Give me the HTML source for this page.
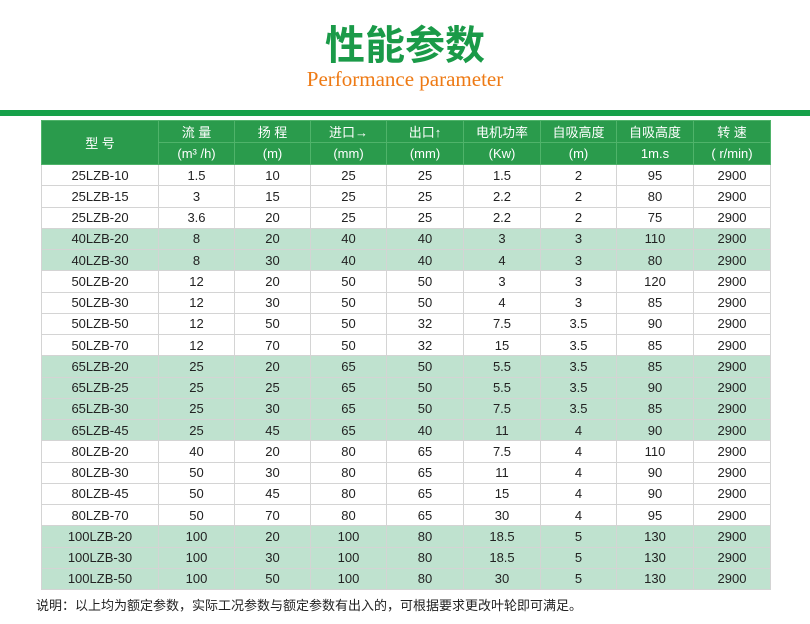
<!DOCTYPE html>
<html><head><meta charset="utf-8"><style>
body{margin:0;width:810px;height:624px;background:#fff;font-family:"Liberation Sans","Noto Sans CJK SC",sans-serif;position:relative;overflow:hidden}
.t{position:absolute;left:0;width:810px;text-align:center}
table{position:absolute;left:41px;top:120px;border-collapse:collapse;table-layout:fixed;width:729px}
td{border:1px solid #d4d4d4;text-align:center;font-size:13px;height:20.25px;padding:0;color:#222}
th{background:#2a9b4c;color:#fff;font-weight:normal;font-size:13px;border:1px solid #4fb36a;height:21px;padding:0}
tr.g td{background:#bfe2cf}
</style></head><body>
<div class="t" style="top:18px;font-size:40px;font-weight:bold;color:#1a9a48;font-family:'Noto Sans CJK SC',sans-serif;line-height:48px">性能参数</div>
<div class="t" style="top:66px;font-size:21px;color:#ee7a14;font-family:'Liberation Serif',serif;line-height:26px">Performance parameter</div>
<div style="position:absolute;left:0;top:110px;width:810px;height:6px;background:#16a14a"></div>
<table>
<colgroup><col style="width:117px"><col style="width:76px"><col style="width:76px"><col style="width:76px"><col style="width:77px"><col style="width:77px"><col style="width:76px"><col style="width:77px"><col style="width:77px"></colgroup>
<tr><th rowspan="2">型 号</th><th>流 量</th><th>扬 程</th><th>进口→</th><th>出口↑</th><th>电机功率</th><th>自吸高度</th><th>自吸高度</th><th>转 速</th></tr>
<tr><th>(m³ /h)</th><th>(m)</th><th>(mm)</th><th>(mm)</th><th>(Kw)</th><th>(m)</th><th>1m.s</th><th>( r/min)</th></tr>
<tr><td>25LZB-10</td><td>1.5</td><td>10</td><td>25</td><td>25</td><td>1.5</td><td>2</td><td>95</td><td>2900</td></tr>
<tr><td>25LZB-15</td><td>3</td><td>15</td><td>25</td><td>25</td><td>2.2</td><td>2</td><td>80</td><td>2900</td></tr>
<tr><td>25LZB-20</td><td>3.6</td><td>20</td><td>25</td><td>25</td><td>2.2</td><td>2</td><td>75</td><td>2900</td></tr>
<tr class="g"><td>40LZB-20</td><td>8</td><td>20</td><td>40</td><td>40</td><td>3</td><td>3</td><td>110</td><td>2900</td></tr>
<tr class="g"><td>40LZB-30</td><td>8</td><td>30</td><td>40</td><td>40</td><td>4</td><td>3</td><td>80</td><td>2900</td></tr>
<tr><td>50LZB-20</td><td>12</td><td>20</td><td>50</td><td>50</td><td>3</td><td>3</td><td>120</td><td>2900</td></tr>
<tr><td>50LZB-30</td><td>12</td><td>30</td><td>50</td><td>50</td><td>4</td><td>3</td><td>85</td><td>2900</td></tr>
<tr><td>50LZB-50</td><td>12</td><td>50</td><td>50</td><td>32</td><td>7.5</td><td>3.5</td><td>90</td><td>2900</td></tr>
<tr><td>50LZB-70</td><td>12</td><td>70</td><td>50</td><td>32</td><td>15</td><td>3.5</td><td>85</td><td>2900</td></tr>
<tr class="g"><td>65LZB-20</td><td>25</td><td>20</td><td>65</td><td>50</td><td>5.5</td><td>3.5</td><td>85</td><td>2900</td></tr>
<tr class="g"><td>65LZB-25</td><td>25</td><td>25</td><td>65</td><td>50</td><td>5.5</td><td>3.5</td><td>90</td><td>2900</td></tr>
<tr class="g"><td>65LZB-30</td><td>25</td><td>30</td><td>65</td><td>50</td><td>7.5</td><td>3.5</td><td>85</td><td>2900</td></tr>
<tr class="g"><td>65LZB-45</td><td>25</td><td>45</td><td>65</td><td>40</td><td>11</td><td>4</td><td>90</td><td>2900</td></tr>
<tr><td>80LZB-20</td><td>40</td><td>20</td><td>80</td><td>65</td><td>7.5</td><td>4</td><td>110</td><td>2900</td></tr>
<tr><td>80LZB-30</td><td>50</td><td>30</td><td>80</td><td>65</td><td>11</td><td>4</td><td>90</td><td>2900</td></tr>
<tr><td>80LZB-45</td><td>50</td><td>45</td><td>80</td><td>65</td><td>15</td><td>4</td><td>90</td><td>2900</td></tr>
<tr><td>80LZB-70</td><td>50</td><td>70</td><td>80</td><td>65</td><td>30</td><td>4</td><td>95</td><td>2900</td></tr>
<tr class="g"><td>100LZB-20</td><td>100</td><td>20</td><td>100</td><td>80</td><td>18.5</td><td>5</td><td>130</td><td>2900</td></tr>
<tr class="g"><td>100LZB-30</td><td>100</td><td>30</td><td>100</td><td>80</td><td>18.5</td><td>5</td><td>130</td><td>2900</td></tr>
<tr class="g"><td>100LZB-50</td><td>100</td><td>50</td><td>100</td><td>80</td><td>30</td><td>5</td><td>130</td><td>2900</td></tr>
</table>
<div style="position:absolute;left:36px;top:595px;font-size:13px;color:#222">说明：以上均为额定参数，实际工况参数与额定参数有出入的，可根据要求更改叶轮即可满足。</div>
</body></html>
